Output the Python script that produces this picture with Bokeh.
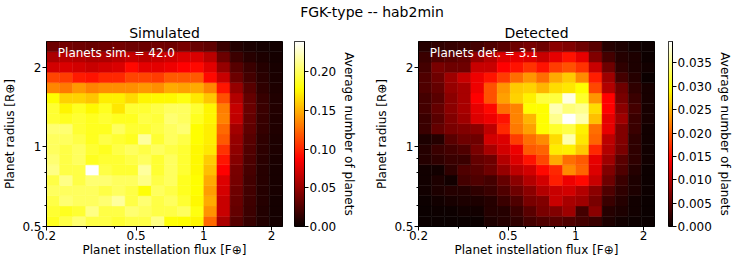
import numpy as np
from bokeh.plotting import figure
from bokeh.models import (ColumnDataSource, LinearColorMapper, FixedTicker, Range1d,
                          Label, Div, PrintfTickFormatter)
from bokeh.layouts import row, column
from bokeh.embed import file_html
from bokeh.resources import INLINE

# ---------------- data ----------------
SUPTITLE = "FGK-type -- hab2min"
TITLES = ["Simulated", "Detected"]
NOTES = ["Planets sim. = 42.0", "Planets det. = 3.1"]
X_LABEL = "Planet instellation flux [F\u2295]"
Y_LABEL = "Planet radius [R\u2295]"
CBAR_LABEL = "Average number of planets"

FLUX_MIN, FLUX_MAX, N_FLUX = 0.2, 2.236, 18
RAD_MIN, RAD_MAX, N_RAD = 0.5, 2.5, 18

FLUX_TICKS = [0.2, 0.5, 1, 2]
FLUX_TICK_LABELS = ["0.2", "0.5", "1", "2"]
FLUX_MINOR = [0.3, 0.4, 0.6, 0.7, 0.8, 0.9]
RAD_TICKS = [0.5, 1, 2]
RAD_TICK_LABELS = ["0.5", "1", "2"]
RAD_MINOR = [0.6, 0.7, 0.8, 0.9]
SIM_CBAR_TICKS = [0.0, 0.05, 0.10, 0.15, 0.20]
DET_CBAR_TICKS = [0.0, 0.005, 0.010, 0.015, 0.020, 0.025, 0.030, 0.035]

# Simulated: one list per radius bin, bottom (0.5 R) = 00 ... top (2.5 R) = 17; columns = flux bins (low -> high)
SIM_00 = [0.185,0.195,0.205,0.195,0.195,0.190,0.195,0.195,0.210,0.180,0.178,0.175,0.125,0.057,0.028,0.016,0.009,0.004]
SIM_01 = [0.190,0.185,0.190,0.210,0.195,0.195,0.205,0.200,0.195,0.195,0.200,0.182,0.140,0.068,0.032,0.018,0.009,0.004]
SIM_02 = [0.195,0.205,0.200,0.200,0.205,0.215,0.195,0.205,0.195,0.200,0.190,0.176,0.148,0.068,0.034,0.019,0.010,0.004]
SIM_03 = [0.200,0.200,0.200,0.200,0.195,0.200,0.195,0.180,0.200,0.195,0.185,0.178,0.143,0.072,0.036,0.020,0.010,0.005]
SIM_04 = [0.195,0.210,0.195,0.205,0.205,0.200,0.200,0.210,0.195,0.200,0.185,0.178,0.148,0.075,0.039,0.020,0.011,0.005]
SIM_05 = [0.210,0.195,0.195,0.239,0.195,0.190,0.190,0.215,0.190,0.200,0.190,0.176,0.155,0.087,0.040,0.022,0.011,0.005]
SIM_06 = [0.205,0.195,0.200,0.185,0.190,0.190,0.195,0.200,0.190,0.200,0.190,0.176,0.160,0.095,0.044,0.024,0.012,0.006]
SIM_07 = [0.200,0.195,0.200,0.190,0.185,0.195,0.200,0.195,0.200,0.195,0.190,0.176,0.170,0.105,0.048,0.026,0.013,0.007]
SIM_08 = [0.200,0.200,0.195,0.185,0.195,0.190,0.185,0.215,0.190,0.200,0.195,0.178,0.172,0.119,0.050,0.028,0.014,0.007]
SIM_09 = [0.205,0.205,0.190,0.185,0.185,0.200,0.190,0.190,0.195,0.200,0.205,0.178,0.172,0.125,0.055,0.030,0.015,0.008]
SIM_10 = [0.190,0.185,0.190,0.185,0.190,0.185,0.185,0.195,0.192,0.205,0.200,0.185,0.175,0.134,0.065,0.032,0.016,0.008]
SIM_11 = [0.190,0.175,0.185,0.176,0.185,0.169,0.190,0.190,0.195,0.200,0.200,0.190,0.175,0.132,0.067,0.034,0.017,0.009]
SIM_12 = [0.178,0.162,0.162,0.157,0.172,0.172,0.165,0.175,0.176,0.176,0.182,0.170,0.158,0.115,0.060,0.032,0.016,0.008]
SIM_13 = [0.135,0.130,0.141,0.134,0.138,0.138,0.138,0.141,0.138,0.148,0.145,0.148,0.135,0.095,0.050,0.028,0.014,0.007]
SIM_14 = [0.112,0.109,0.097,0.094,0.101,0.101,0.112,0.112,0.109,0.119,0.119,0.119,0.090,0.068,0.035,0.021,0.012,0.006]
SIM_15 = [0.071,0.074,0.071,0.068,0.071,0.074,0.090,0.078,0.078,0.082,0.087,0.090,0.077,0.050,0.028,0.017,0.010,0.005]
SIM_16 = [0.057,0.062,0.060,0.057,0.058,0.062,0.067,0.063,0.067,0.070,0.074,0.074,0.063,0.035,0.018,0.011,0.007,0.004]
SIM_17 = [0.036,0.038,0.036,0.034,0.036,0.038,0.036,0.035,0.037,0.036,0.040,0.034,0.030,0.017,0.009,0.006,0.004,0.003]

# Detected
DET_00 = [0.0001,0.0001,0.0001,0.0001,0.0001,0.0012,0.0017,0.0023,0.0035,0.0041,0.0047,0.0041,0.0035,0.0029,0.0012,0.0006,0.0003,0.0001]
DET_01 = [0.0001,0.0003,0.0003,0.0006,0.0006,0.0017,0.0017,0.0029,0.0047,0.0065,0.0071,0.0088,0.0035,0.0077,0.0017,0.0012,0.0006,0.0001]
DET_02 = [0.0003,0.0006,0.0009,0.0012,0.0012,0.0017,0.0029,0.0041,0.0065,0.0071,0.0112,0.0094,0.0088,0.0065,0.0029,0.0017,0.0006,0.0001]
DET_03 = [0.0006,0.0012,0.0017,0.0017,0.0023,0.0029,0.0041,0.0059,0.0077,0.0100,0.0112,0.0118,0.0100,0.0077,0.0041,0.0023,0.0012,0.0003]
DET_04 = [0.0006,0.0012,0.0006,0.0035,0.0041,0.0035,0.0053,0.0077,0.0100,0.0118,0.0162,0.0136,0.0150,0.0112,0.0059,0.0029,0.0012,0.0003]
DET_05 = [0.0006,0.0006,0.0023,0.0041,0.0047,0.0059,0.0082,0.0106,0.0118,0.0150,0.0168,0.0227,0.0204,0.0124,0.0071,0.0041,0.0017,0.0003]
DET_06 = [0.0017,0.0023,0.0029,0.0029,0.0053,0.0059,0.0100,0.0124,0.0156,0.0186,0.0245,0.0210,0.0198,0.0130,0.0088,0.0047,0.0023,0.0006]
DET_07 = [0.0017,0.0029,0.0035,0.0041,0.0065,0.0094,0.0118,0.0136,0.0198,0.0204,0.0284,0.0287,0.0263,0.0168,0.0100,0.0065,0.0023,0.0006]
DET_08 = [0.0012,0.0017,0.0047,0.0059,0.0059,0.0118,0.0124,0.0180,0.0210,0.0227,0.0275,0.0362,0.0281,0.0204,0.0106,0.0071,0.0023,0.0006]
DET_09 = [0.0029,0.0053,0.0065,0.0071,0.0077,0.0106,0.0168,0.0216,0.0239,0.0295,0.0311,0.0323,0.0287,0.0210,0.0130,0.0071,0.0029,0.0006]
DET_10 = [0.0029,0.0047,0.0071,0.0088,0.0124,0.0136,0.0156,0.0222,0.0251,0.0295,0.0351,0.0396,0.0362,0.0257,0.0130,0.0088,0.0029,0.0009]
DET_11 = [0.0035,0.0053,0.0077,0.0094,0.0130,0.0150,0.0210,0.0222,0.0295,0.0295,0.0366,0.0343,0.0351,0.0275,0.0145,0.0077,0.0035,0.0009]
DET_12 = [0.0035,0.0047,0.0077,0.0094,0.0145,0.0192,0.0239,0.0269,0.0287,0.0319,0.0319,0.0385,0.0311,0.0233,0.0145,0.0065,0.0029,0.0009]
DET_13 = [0.0041,0.0053,0.0082,0.0094,0.0136,0.0192,0.0233,0.0263,0.0269,0.0251,0.0275,0.0281,0.0295,0.0186,0.0100,0.0059,0.0023,0.0009]
DET_14 = [0.0041,0.0059,0.0088,0.0112,0.0136,0.0156,0.0180,0.0210,0.0233,0.0210,0.0245,0.0263,0.0227,0.0162,0.0088,0.0035,0.0017,0.0001]
DET_15 = [0.0035,0.0065,0.0059,0.0059,0.0112,0.0112,0.0145,0.0156,0.0174,0.0156,0.0180,0.0192,0.0174,0.0112,0.0059,0.0023,0.0012,0.0006]
DET_16 = [0.0029,0.0041,0.0047,0.0053,0.0082,0.0100,0.0124,0.0130,0.0124,0.0112,0.0130,0.0156,0.0130,0.0071,0.0035,0.0017,0.0012,0.0003]
DET_17 = [0.0017,0.0023,0.0026,0.0029,0.0035,0.0041,0.0047,0.0059,0.0065,0.0059,0.0077,0.0071,0.0059,0.0047,0.0017,0.0012,0.0006,0.0003]

SIM = [SIM_00, SIM_01, SIM_02, SIM_03, SIM_04, SIM_05, SIM_06, SIM_07, SIM_08,
       SIM_09, SIM_10, SIM_11, SIM_12, SIM_13, SIM_14, SIM_15, SIM_16, SIM_17]
DET = [DET_00, DET_01, DET_02, DET_03, DET_04, DET_05, DET_06, DET_07, DET_08,
       DET_09, DET_10, DET_11, DET_12, DET_13, DET_14, DET_15, DET_16, DET_17]

FONT = "DejaVu Sans"


def hot_palette(n=256):
    t = np.linspace(0, 1, n)
    r = np.clip(0.0416 + (1 - 0.0416) * t / 0.365079, 0, 1)
    g = np.clip((t - 0.365079) / (0.746032 - 0.365079), 0, 1)
    b = np.clip((t - 0.746032) / (1 - 0.746032), 0, 1)
    return ["#%02x%02x%02x" % (int(round(255 * a)), int(round(255 * c)), int(round(255 * d)))
            for a, c, d in zip(r, g, b)]


HOT = hot_palette()

FIG_H = 237
TOP = 18
BOTTOM = 32


def style_axis(ax):
    ax.axis_line_color = "black"
    ax.major_tick_line_color = "black"
    ax.minor_tick_line_color = "black"
    ax.major_label_text_color = "black"
    ax.major_label_text_font = FONT
    ax.major_label_text_font_size = "12px"
    ax.axis_label_text_font = FONT
    ax.axis_label_text_font_size = "12px"
    ax.axis_label_text_font_style = "normal"
    ax.axis_label_text_color = "black"
    ax.major_tick_in = 0
    ax.minor_tick_in = 0
    ax.major_tick_out = 4
    ax.minor_tick_out = 2


def heatmap(grid, title, note, border_right):
    vmax = max(max(r) for r in grid)
    mapper = LinearColorMapper(palette=HOT, low=0, high=vmax)
    xe = np.geomspace(FLUX_MIN, FLUX_MAX, N_FLUX + 1)
    ye = np.geomspace(RAD_MIN, RAD_MAX, N_RAD + 1)
    d = dict(left=[], right=[], bottom=[], top=[], value=[])
    for j, vals in enumerate(grid):
        for i, v in enumerate(vals):
            d["left"].append(xe[i]); d["right"].append(xe[i + 1])
            d["bottom"].append(ye[j]); d["top"].append(ye[j + 1])
            d["value"].append(v)
    p = figure(width=40 + 242 + border_right, height=FIG_H, x_axis_type="log", y_axis_type="log",
               x_range=Range1d(FLUX_MIN, FLUX_MAX), y_range=Range1d(RAD_MIN, RAD_MAX),
               output_backend="svg", toolbar_location=None,
               min_border_left=40, min_border_right=border_right,
               min_border_top=TOP, min_border_bottom=BOTTOM, title=title)
    p.quad(left="left", right="right", bottom="bottom", top="top", source=ColumnDataSource(d),
           fill_color={"field": "value", "transform": mapper},
           line_color={"field": "value", "transform": mapper}, line_width=0.5)
    p.grid.visible = False
    p.outline_line_color = "black"
    p.outline_line_alpha = 1
    p.title.align = "center"
    p.title.text_font = FONT
    p.title.text_font_size = "14px"
    p.title.text_font_style = "normal"
    p.title.text_color = "black"
    p.title.standoff = 1
    p.xaxis.ticker = FixedTicker(ticks=FLUX_TICKS, minor_ticks=FLUX_MINOR)
    p.xaxis.major_label_overrides = {t: s for t, s in zip(FLUX_TICKS, FLUX_TICK_LABELS)}
    p.yaxis.ticker = FixedTicker(ticks=RAD_TICKS, minor_ticks=RAD_MINOR)
    p.yaxis.major_label_overrides = {t: s for t, s in zip(RAD_TICKS, RAD_TICK_LABELS)}
    p.xaxis.axis_label = X_LABEL
    p.yaxis.axis_label = Y_LABEL
    for ax in (p.xaxis[0], p.yaxis[0]):
        style_axis(ax)
    p.xaxis.major_label_standoff = 0
    p.xaxis.axis_label_standoff = 0
    p.yaxis.major_label_standoff = 1
    p.yaxis.axis_label_standoff = 2
    lx = FLUX_MIN * (FLUX_MAX / FLUX_MIN) ** 0.048
    ly = RAD_MIN * (RAD_MAX / RAD_MIN) ** 0.938
    p.add_layout(Label(x=lx, y=ly, text=note, text_color="white", text_font=FONT,
                       text_font_size="12px", text_baseline="middle"))
    return p, mapper, vmax


def colorbar(mapper, vmax, ticks, fmt, width):
    c = figure(width=width, height=FIG_H, x_range=Range1d(0, 1), y_range=Range1d(0, vmax),
               output_backend="svg", toolbar_location=None, x_axis_location=None,
               y_axis_location="right", min_border_left=0, min_border_right=width - 10,
               min_border_top=TOP, min_border_bottom=BOTTOM)
    grad = np.linspace(0, vmax, 256).reshape(256, 1)
    c.image(image=[grad], x=0, y=0, dw=1, dh=vmax, color_mapper=mapper)
    c.grid.visible = False
    c.outline_line_color = "black"
    c.outline_line_alpha = 1
    c.yaxis.ticker = FixedTicker(ticks=ticks)
    c.yaxis.formatter = PrintfTickFormatter(format=fmt)
    c.yaxis.axis_label = CBAR_LABEL
    style_axis(c.yaxis[0])
    c.yaxis.minor_tick_line_color = None
    c.yaxis.major_label_standoff = 1
    c.yaxis.axis_label_standoff = 3
    return c


p1, m1, v1 = heatmap(SIM, TITLES[0], NOTES[0], 12)
c1 = colorbar(m1, v1, SIM_CBAR_TICKS, "%.2f", 78)
p2, m2, v2 = heatmap(DET, TITLES[1], NOTES[1], 14)
c2 = colorbar(m2, v2, DET_CBAR_TICKS, "%.3f", 66)

sup = Div(text='<div style="width:734px;text-align:center;font-family:\'DejaVu Sans\';'
               'font-size:14px;line-height:12px;color:black;">' + SUPTITLE + '</div>',
          width=734, height=12)

layout = column(sup, row(p1, c1, p2, c2))

open("out.html", "w").write(file_html(layout, INLINE))
